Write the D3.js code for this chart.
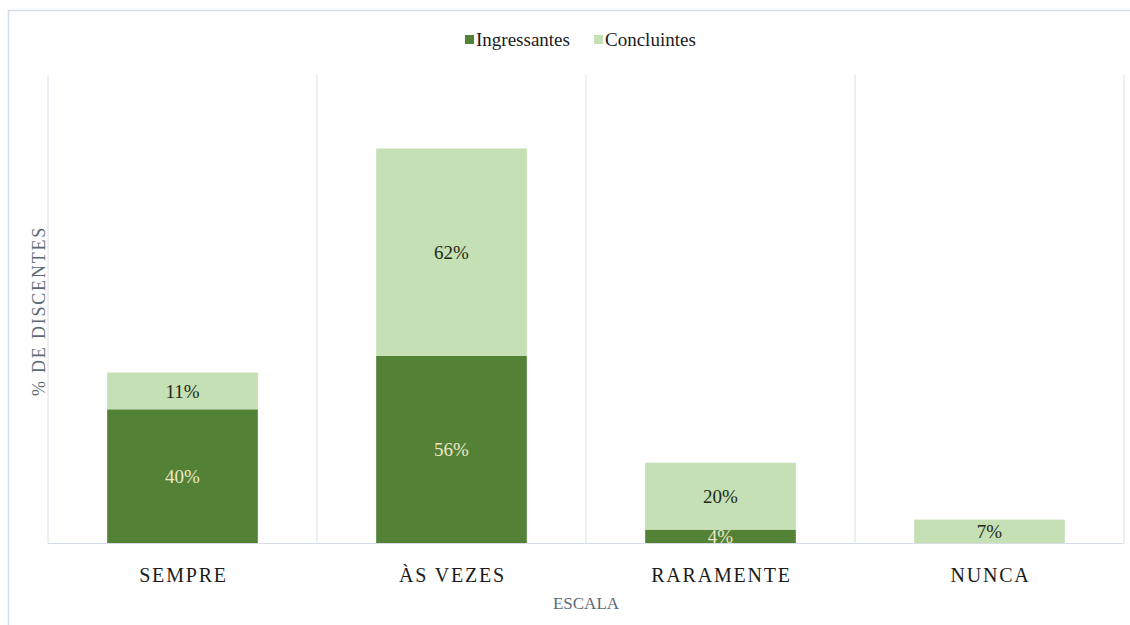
<!DOCTYPE html>
<html>
<head>
<meta charset="utf-8">
<script src="https://cdn.jsdelivr.net/npm/d3@7"></script>
<style>
  html, body { margin: 0; padding: 0; background: #ffffff; }
  svg { display: block; }
</style>
</head>
<body>
<svg id="chart" width="1130" height="625"></svg>
<script>
// Response scale and share of students per group (%)
const categories = ["SEMPRE", "ÀS VEZES", "RARAMENTE", "NUNCA"];
const ingressantes = [40, 56, 4, 0];
const concluintes = [11, 62, 20, 7];
const seriesNames = ["Ingressantes", "Concluintes"];
const seriesColors = ["#538135", "#c5e0b4"];
const labelColors = ["#efe6c8", "#1e2a1a"];

const svg = d3.select("#chart");
const W = 1130, H = 625;
const plot = { left: 48, right: 1124, top: 75, bottom: 543 };
const serif = "'Liberation Serif', 'Times New Roman', serif";

// Chart frame
svg.append("rect")
  .attr("x", 8.5).attr("y", 10.5)
  .attr("width", W + 20).attr("height", H + 20)
  .attr("fill", "#ffffff")
  .attr("stroke", "#d3dde8").attr("stroke-width", 1.5);

const x = d3.scaleBand()
  .domain(categories)
  .range([plot.left, plot.right])
  .paddingInner(0.44)
  .paddingOuter(0.22);

const y = d3.scaleLinear()
  .domain([0, 140])
  .range([plot.bottom, plot.top]);

// Stack the two series
const rows = categories.map((c, i) => ({
  cat: c,
  Ingressantes: ingressantes[i],
  Concluintes: concluintes[i]
}));
const stacked = d3.stack().keys(seriesNames)(rows);

// Vertical separators between categories
const step = x.step();
const bounds = d3.range(categories.length + 1).map(i => plot.left + i * step);
svg.append("g").selectAll("line")
  .data(bounds)
  .join("line")
  .attr("x1", d => d).attr("x2", d => d)
  .attr("y1", plot.top).attr("y2", plot.bottom)
  .attr("stroke", "#d6e2ec").attr("stroke-width", 1);

// Bars
const barG = svg.append("g");
stacked.forEach((layer, si) => {
  barG.append("g").selectAll("rect")
    .data(layer.filter(d => d[1] - d[0] > 0))
    .join("rect")
    .attr("x", d => x(d.data.cat))
    .attr("width", x.bandwidth())
    .attr("y", d => y(d[1]))
    .attr("height", d => y(d[0]) - y(d[1]))
    .attr("fill", seriesColors[si]);
});

// Category axis baseline
svg.append("line")
  .attr("x1", plot.left).attr("x2", plot.right)
  .attr("y1", plot.bottom + 0.5).attr("y2", plot.bottom + 0.5)
  .attr("stroke", "#d6dde6").attr("stroke-width", 1.2);

// Value labels, clipped to the plot area
svg.append("clipPath").attr("id", "plotClip")
  .append("rect")
  .attr("x", plot.left).attr("y", plot.top)
  .attr("width", plot.right - plot.left).attr("height", plot.bottom - plot.top);

const labelG = svg.append("g").attr("clip-path", "url(#plotClip)");
stacked.forEach((layer, si) => {
  labelG.append("g").selectAll("text")
    .data(layer.filter(d => d[1] - d[0] > 0))
    .join("text")
    .attr("x", d => x(d.data.cat) + x.bandwidth() / 2)
    .attr("y", d => (y(d[0]) + y(d[1])) / 2)
    .attr("dy", "0.35em")
    .attr("text-anchor", "middle")
    .attr("font-family", serif)
    .attr("font-size", 19)
    .attr("fill", labelColors[si])
    .text(d => (d[1] - d[0]) + "%");
});

// Category axis labels
svg.append("g").selectAll("text")
  .data(categories)
  .join("text")
  .attr("x", d => x(d) + x.bandwidth() / 2 + 1)
  .attr("y", 582)
  .attr("text-anchor", "middle")
  .attr("font-family", serif)
  .attr("font-size", 20)
  .attr("letter-spacing", 1.8)
  .attr("fill", "#1b1b1b")
  .text(d => d);

// Axis titles
svg.append("text")
  .attr("x", (plot.left + plot.right) / 2)
  .attr("y", 609)
  .attr("text-anchor", "middle")
  .attr("font-family", serif)
  .attr("font-size", 17)
  .attr("fill", "#5b6a76")
  .text("ESCALA");

svg.append("text")
  .attr("transform", "translate(45,311) rotate(-90)")
  .attr("text-anchor", "middle")
  .attr("font-family", serif)
  .attr("font-size", 18)
  .attr("letter-spacing", 1.8)
  .attr("fill", "#5b6a76")
  .text("% DE DISCENTES");

// Legend
const legendItems = [
  { name: seriesNames[0], color: seriesColors[0], x: 465 },
  { name: seriesNames[1], color: seriesColors[1], x: 594 }
];
const lg = svg.append("g");
lg.selectAll("rect")
  .data(legendItems)
  .join("rect")
  .attr("x", d => d.x).attr("y", 35)
  .attr("width", 9).attr("height", 9)
  .attr("fill", d => d.color);
lg.selectAll("text")
  .data(legendItems)
  .join("text")
  .attr("x", d => d.x + 11).attr("y", 46)
  .attr("font-family", serif)
  .attr("font-size", 19)
  .attr("fill", "#1b1b1b")
  .text(d => d.name);
</script>
</body>
</html>
